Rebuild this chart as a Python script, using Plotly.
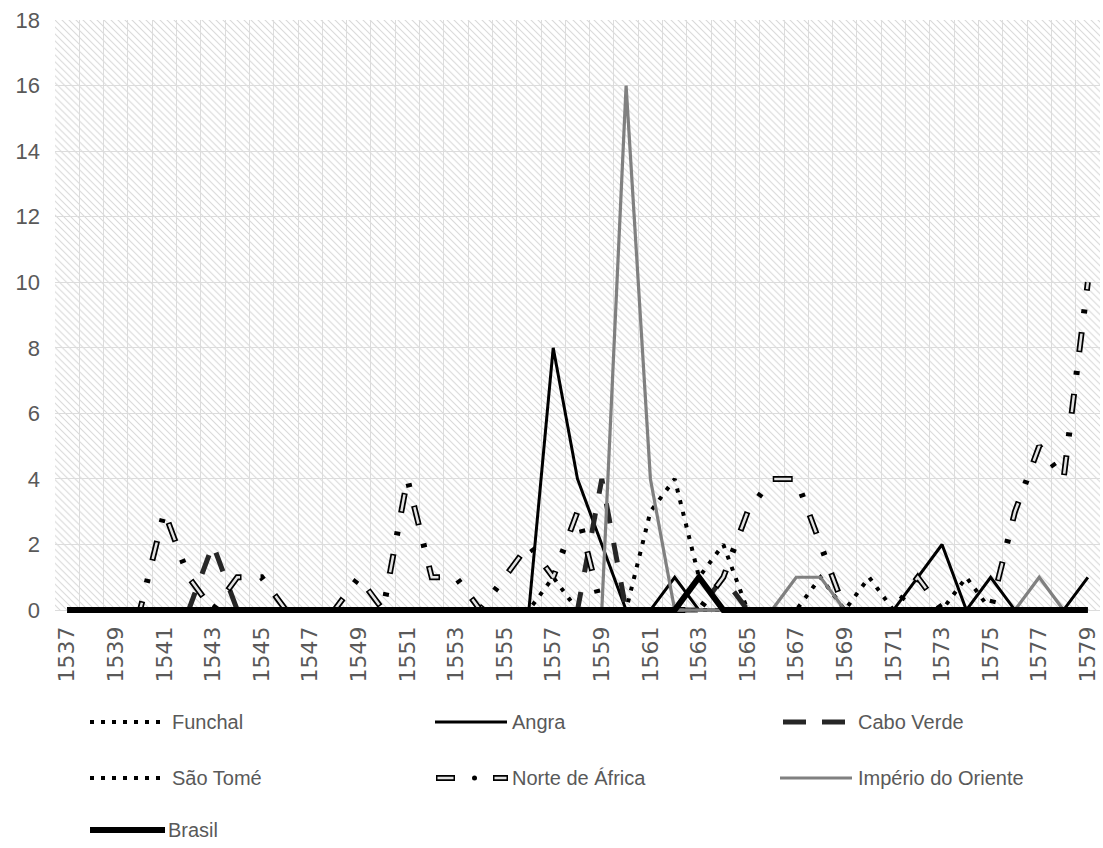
import base64
import plotly.graph_objects as go

# Categories (years) and axis tick labels
years = list(range(1537, 1580))
tick_years = list(range(1537, 1580, 2))
tick_labels = [str(y) for y in tick_years]

# Series values, one per year 1537..1579
funchal = [0, 0, 0, 0, 0, 0, 0, 0, 0, 0,
           0, 0, 0, 0, 0, 0, 0, 0, 0, 0,
           1, 0, 0, 0, 3, 4, 1, 2, 0, 0,
           0, 0, 0, 0, 0, 0, 0, 0, 0, 0,
           0, 0, 0]
angra = [0, 0, 0, 0, 0, 0, 0, 0, 0, 0,
         0, 0, 0, 0, 0, 0, 0, 0, 0, 0,
         8, 4, 2, 0, 0, 1, 0, 0, 0, 0,
         0, 0, 0, 0, 0, 1, 2, 0, 1, 0,
         0, 0, 1]
cabo_verde = [0, 0, 0, 0, 0, 0, 2, 0, 0, 0,
              0, 0, 0, 0, 0, 0, 0, 0, 0, 0,
              0, 0, 4, 0, 0, 0, 0, 1, 0, 0,
              0, 0, 0, 0, 0, 0, 0, 0, 0, 0,
              0, 0, 0]
sao_tome = [0, 0, 0, 0, 0, 0, 0, 0, 0, 0,
            0, 0, 0, 0, 0, 0, 0, 0, 0, 0,
            0, 0, 0, 0, 0, 0, 0, 0, 0, 0,
            0, 1, 0, 1, 0, 0, 0, 1, 0, 0,
            0, 0, 0]
norte_africa = [0, 0, 0, 0, 3, 1, 0, 1, 1, 0,
                0, 0, 1, 0, 4, 1, 1, 0, 1, 2,
                1, 3, 0, 0, 0, 0, 0, 1, 3, 4,
                4, 2, 0, 0, 0, 1, 0, 0, 0, 3,
                5, 4, 10]
imperio_oriente = [0, 0, 0, 0, 0, 0, 0, 0, 0, 0,
                   0, 0, 0, 0, 0, 0, 0, 0, 0, 0,
                   0, 0, 0, 16, 4, 0, 0, 0, 0, 0,
                   1, 1, 0, 0, 0, 0, 0, 0, 0, 0,
                   1, 0, 0]
brasil = [0, 0, 0, 0, 0, 0, 0, 0, 0, 0,
          0, 0, 0, 0, 0, 0, 0, 0, 0, 0,
          0, 0, 0, 0, 0, 0, 1, 0, 0, 0,
          0, 0, 0, 0, 0, 0, 0, 0, 0, 0,
          0, 0, 0]

series_names = ["Funchal", "Angra", "Cabo Verde", "São Tomé",
                "Norte de África", "Império do Oriente", "Brasil"]

W, H = 1103, 848
M_L, M_R, M_T, M_B = 55, 3, 20, 235
PLOT_W = W - M_L - M_R
PLOT_H = H - M_T - M_B

TEXT_COLOR = "#595959"
GRID_COLOR = "#dcdcdc"
SANS = "Liberation Sans, Arial, sans-serif"

DOT = "4px,8px"
NORTE_OUTER = "20px,19px,4px,19px"
NORTE_INNER = "0px,1.5px,17px,43.5px"

fig = go.Figure()


def add_line(y, name, color, width, dash=None):
    line = dict(color=color, width=width)
    if dash:
        line["dash"] = dash
    fig.add_trace(go.Scatter(x=years, y=y, mode="lines", name=name,
                             line=line, showlegend=False, hoverinfo="skip"))


add_line(funchal, series_names[0], "#000000", 4, DOT)
add_line(angra, series_names[1], "#000000", 3)
add_line(cabo_verde, series_names[2], "#262626", 5, "20px,20px")
add_line(sao_tome, series_names[3], "#000000", 4, DOT)
add_line(norte_africa, series_names[4], "#000000", 6, NORTE_OUTER)
add_line(norte_africa, series_names[4], "#e2e2e2", 2.5, NORTE_INNER)
add_line(imperio_oriente, series_names[5], "#808080", 3.2)
add_line(brasil, series_names[6], "#000000", 6)

# Hatched plot-area background as an inline SVG pattern
svg = (
    f'<svg xmlns="http://www.w3.org/2000/svg" width="{PLOT_W}" height="{PLOT_H}" '
    f'viewBox="0 0 {PLOT_W} {PLOT_H}">'
    '<defs><pattern id="h" width="7" height="7" patternUnits="userSpaceOnUse">'
    '<path d="M-1,-1 L8,8 M-8,-1 L1,8 M6,-1 L15,8" stroke="#d9d9d9" stroke-width="1.1"/>'
    '</pattern></defs>'
    f'<rect width="{PLOT_W}" height="{PLOT_H}" fill="#ffffff"/>'
    f'<rect width="{PLOT_W}" height="{PLOT_H}" fill="url(#h)"/></svg>'
)
bg_src = "data:image/svg+xml;base64," + base64.b64encode(svg.encode()).decode()


def px_x(x):
    return (x - M_L) / PLOT_W


def px_y(y):
    return (H - M_B - y) / PLOT_H


# Hand-built legend: symbols as shapes, labels as annotations
shapes = []
annotations = []


def seg(x0, x1, y, color, width, dash=None):
    line = dict(color=color, width=width)
    if dash:
        line["dash"] = dash
    shapes.append(dict(type="line", xref="paper", yref="paper",
                       x0=px_x(x0), x1=px_x(x1), y0=px_y(y), y1=px_y(y), line=line))


def label(x, y, text):
    annotations.append(dict(x=px_x(x), y=px_y(y), xref="paper", yref="paper",
                            text=text, showarrow=False, xanchor="left", yanchor="middle",
                            font=dict(family=SANS, size=20, color=TEXT_COLOR)))


row_y = [722, 778, 830]
col_x = [90, 435, 780]

# Funchal
seg(col_x[0], col_x[0] + 74, row_y[0], "#000000", 4, "4px,7px")
label(170, row_y[0], series_names[0])
# Angra
seg(col_x[1], col_x[1] + 72, row_y[0], "#000000", 3)
label(510, row_y[0], series_names[1])
# Cabo Verde
seg(col_x[2] + 3, col_x[2] + 26, row_y[0], "#262626", 5)
seg(col_x[2] + 42, col_x[2] + 65, row_y[0], "#262626", 5)
label(856, row_y[0], series_names[2])
# São Tomé
seg(col_x[0], col_x[0] + 74, row_y[1], "#000000", 4, "4px,7px")
label(170, row_y[1], series_names[3])
# Norte de África
for a, b in [(436, 455), (493, 508)]:
    seg(a, b, row_y[1], "#000000", 6)
    seg(a + 1.5, b - 1.5, row_y[1], "#e2e2e2", 2.5)
shapes.append(dict(type="circle", xref="paper", yref="paper",
                   x0=px_x(472), x1=px_x(477), y0=px_y(row_y[1] + 2.5), y1=px_y(row_y[1] - 2.5),
                   fillcolor="#000000", line=dict(width=0)))
label(510, row_y[1], series_names[4])
# Império do Oriente
seg(col_x[2], col_x[2] + 72, row_y[1], "#808080", 3.2)
label(856, row_y[1], series_names[5])
# Brasil
seg(col_x[0], col_x[0] + 75, row_y[2], "#000000", 6)
label(166, row_y[2], series_names[6])

fig.update_layout(
    width=W, height=H,
    margin=dict(l=M_L, r=M_R, t=M_T, b=M_B),
    paper_bgcolor="#ffffff",
    plot_bgcolor="#ffffff",
    showlegend=False,
    images=[dict(source=bg_src, xref="paper", yref="y", x=0, y=18,
                 sizex=1, sizey=18, sizing="stretch", layer="below",
                 xanchor="left", yanchor="top")],
    shapes=shapes,
    annotations=annotations,
    xaxis=dict(
        range=[1536.5, 1579.5],
        tickmode="array", tickvals=tick_years, ticktext=tick_labels,
        tickangle=-90,
        tickfont=dict(family="DejaVu Sans", size=22, color=TEXT_COLOR),
        showgrid=False, zeroline=False, showline=False, ticks="",
        ticklabelstandoff=8,
        minor=dict(tick0=1536.5, dtick=1, showgrid=True,
                   gridcolor=GRID_COLOR, gridwidth=1.3, ticks=""),
    ),
    yaxis=dict(
        range=[-0.09, 18], tickmode="linear", tick0=0, dtick=2,
        tickfont=dict(family=SANS, size=22, color=TEXT_COLOR),
        showgrid=True, gridcolor=GRID_COLOR, gridwidth=1.3,
        zeroline=False, showline=False, ticks="",
        ticklabelstandoff=14,
    ),
)

fig.write_html("out.html")
